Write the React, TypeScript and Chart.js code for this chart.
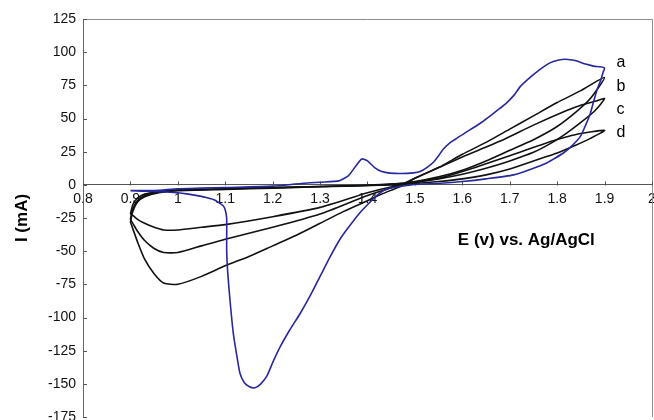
import React, { useEffect, useRef } from "react";
import { Chart, registerables } from "chart.js";

Chart.register(...registerables);

// Axis ranges and tick spacing
const E_MIN = 0.8;
const E_MAX = 2.0;
const E_STEP = 0.1;
const I_MIN = -175;
const I_MAX = 125;
const I_STEP = 25;

// Curve a (blue): [E (V), I (mA)] forward scan then reverse scan
const curveA: [number, number][] = [
  [0.9, -4.3], [0.95, -4.3], [1.0, -3], [1.05, -2.5], [1.1, -2], [1.2, -1], [1.26, 1],
  [1.3, 2], [1.34, 3], [1.36, 7], [1.375, 14], [1.388, 19.5], [1.4, 18], [1.415, 13],
  [1.43, 10], [1.448, 8.8], [1.47, 8.5], [1.497, 9], [1.511, 10], [1.525, 13], [1.539, 17],
  [1.55, 22], [1.56, 27], [1.575, 32], [1.588, 35], [1.605, 39], [1.623, 43], [1.64, 47],
  [1.659, 52], [1.677, 57], [1.694, 62], [1.71, 68], [1.722, 74], [1.743, 81], [1.764, 87],
  [1.78, 91], [1.792, 93], [1.81, 94.5], [1.823, 94.5], [1.84, 93.5], [1.86, 91],
  [1.877, 89.5], [1.89, 89], [1.9, 88],
  [1.897, 85], [1.893, 80], [1.884, 71.5], [1.877, 63], [1.87, 54], [1.86, 45],
  [1.849, 36.5], [1.83, 29], [1.813, 24], [1.795, 20], [1.778, 16.5], [1.75, 12.5],
  [1.708, 7.5], [1.65, 4.5], [1.6, 2.5], [1.553, 1.2], [1.5, 0.3], [1.469, -1.2],
  [1.441, -3], [1.42, -8], [1.4, -15], [1.384, -21], [1.36, -32], [1.342, -41], [1.32, -55],
  [1.3, -69], [1.28, -83], [1.258, -97], [1.235, -110], [1.216, -122], [1.2, -134],
  [1.188, -144], [1.175, -150], [1.163, -153], [1.15, -152], [1.14, -149], [1.131, -142],
  [1.124, -128], [1.117, -112], [1.11, -87], [1.105, -65], [1.103, -49], [1.103, -25],
  [1.1, -19], [1.096, -16], [1.085, -13], [1.075, -11], [1.06, -9.5], [1.047, -8.5],
  [1.019, -6.8], [1.0, -6], [0.95, -5], [0.9, -4.5],
];

// Curve b (black)
const curveB: [number, number][] = [
  [0.9, -28], [0.905, -20], [0.915, -13], [0.93, -9], [0.96, -6], [1.0, -4.5], [1.1, -3.5],
  [1.2, -2.5], [1.3, -1.5], [1.4, -0.5], [1.45, 0.5], [1.5, 2.5], [1.55, 6], [1.6, 11],
  [1.65, 18], [1.7, 26], [1.75, 34], [1.8, 44], [1.84, 55], [1.87, 65], [1.9, 81],
  [1.85, 71], [1.8, 62], [1.75, 52], [1.7, 42], [1.65, 32], [1.6, 23], [1.55, 13], [1.5, 5],
  [1.47, -1], [1.43, -7], [1.4, -12], [1.35, -20], [1.3, -29], [1.25, -38], [1.2, -46],
  [1.15, -54], [1.1, -61], [1.05, -69], [1.0, -75], [0.97, -74], [0.95, -67], [0.93, -56],
  [0.915, -43], [0.905, -33], [0.9, -28],
];

// Curve c (black)
const curveC: [number, number][] = [
  [0.9, -26], [0.905, -18], [0.915, -12], [0.93, -8], [0.96, -5.5], [1.0, -4], [1.1, -3],
  [1.2, -2.2], [1.3, -1.3], [1.4, -0.3], [1.45, 0.5], [1.5, 2], [1.55, 4.5], [1.6, 8],
  [1.65, 12.5], [1.7, 18], [1.75, 24.5], [1.79, 32], [1.82, 39], [1.85, 47], [1.88, 56],
  [1.9, 65],
  [1.88, 63], [1.85, 60], [1.82, 56], [1.75, 45], [1.68, 33], [1.6, 21], [1.55, 13],
  [1.5, 5], [1.47, 0], [1.4, -8], [1.3, -22], [1.2, -32], [1.1, -41], [1.05, -46],
  [1.0, -51], [0.97, -51], [0.95, -48], [0.93, -42], [0.915, -35], [0.905, -29], [0.9, -26],
];

// Curve d (black)
const curveD: [number, number][] = [
  [0.9, -22], [0.905, -15], [0.915, -10], [0.93, -7], [0.96, -5], [1.0, -4], [1.1, -3],
  [1.2, -2], [1.3, -1.2], [1.4, -0.5], [1.45, 0], [1.5, 1], [1.55, 2.5], [1.6, 4.5],
  [1.65, 7.5], [1.7, 12], [1.75, 18], [1.8, 24], [1.84, 30], [1.87, 35], [1.9, 41],
  [1.84, 38], [1.79, 33], [1.7, 22], [1.6, 10], [1.55, 5], [1.5, 2], [1.47, 0], [1.4, -6],
  [1.3, -17], [1.2, -24], [1.1, -30], [1.05, -32], [1.0, -34], [0.97, -34], [0.95, -32],
  [0.93, -29], [0.915, -26], [0.905, -23], [0.9, -22],
];

const curveNames = ["a", "b", "c", "d"];
const curveNameLevels = [92, 74, 56.5, 39];
const curveNameE = 1.925;

const xTitle = "E (v) vs. Ag/AgCl";
const xTitlePos: [number, number] = [1.735, -41.5];
const yTitle = "I (mA)";

const FONT = "'Liberation Sans', Arial, sans-serif";

const toPoints = (arr: [number, number][]) => arr.map(([x, y]) => ({ x, y }));

const decorPlugin = {
  id: "decor",
  beforeDatasetsDraw(chart: any) {
    const { ctx, chartArea } = chart;
    const xs = chart.scales.x;
    const ys = chart.scales.y;
    const { left, right, top, bottom } = chartArea;
    ctx.save();
    ctx.strokeStyle = "#8c8c8c";
    ctx.lineWidth = 1;
    ctx.beginPath();
    ctx.moveTo(left, Math.round(top) + 0.5);
    ctx.lineTo(Math.round(right) + 0.5, Math.round(top) + 0.5);
    ctx.lineTo(Math.round(right) + 0.5, bottom);
    ctx.stroke();
    const y0 = Math.round(ys.getPixelForValue(0)) + 0.5;
    ctx.strokeStyle = "#555";
    ctx.beginPath();
    xs.ticks.forEach((t: any) => {
      const px = Math.round(xs.getPixelForValue(t.value)) + 0.5;
      ctx.moveTo(px, y0);
      ctx.lineTo(px, y0 - 4);
    });
    ys.ticks.forEach((t: any) => {
      const py = Math.round(ys.getPixelForValue(t.value)) + 0.5;
      ctx.moveTo(left, py);
      ctx.lineTo(left + 4, py);
    });
    ctx.stroke();
    ctx.restore();
  },
  afterDraw(chart: any) {
    const { ctx } = chart;
    const xs = chart.scales.x;
    const ys = chart.scales.y;
    ctx.save();
    ctx.fillStyle = "#000";
    ctx.textBaseline = "middle";
    ctx.textAlign = "center";
    ctx.font = `bold 17px ${FONT}`;
    ctx.fillText(xTitle, xs.getPixelForValue(xTitlePos[0]), ys.getPixelForValue(xTitlePos[1]));
    ctx.textAlign = "left";
    ctx.font = `16px ${FONT}`;
    curveNames.forEach((n, i) => {
      ctx.fillText(n, xs.getPixelForValue(curveNameE), ys.getPixelForValue(curveNameLevels[i]));
    });
    ctx.restore();
  },
};

export default function App() {
  const ref = useRef<HTMLCanvasElement>(null);
  useEffect(() => {
    if (!ref.current) return;
    const lineDs = (label: string, data: [number, number][], color: string) => ({
      label,
      data: toPoints(data),
      showLine: true,
      borderColor: color,
      backgroundColor: color,
      borderWidth: 1.6,
      pointRadius: 0,
      tension: 0.2,
      fill: false,
    });
    const chart = new Chart(ref.current, {
      type: "scatter",
      data: {
        datasets: [
          lineDs("a", curveA, "#26289c"),
          lineDs("b", curveB, "#111111"),
          lineDs("c", curveC, "#111111"),
          lineDs("d", curveD, "#111111"),
        ],
      },
      options: {
        responsive: false,
        animation: false,
        devicePixelRatio: 1,
        events: [],
        layout: { padding: { top: 19, right: 2, bottom: 3, left: 0 } },
        plugins: { legend: { display: false }, tooltip: { enabled: false } },
        scales: {
          x: {
            type: "linear",
            position: { y: 0 } as any,
            min: E_MIN,
            max: E_MAX,
            afterFit: (s: any) => {
              s.paddingLeft = 0;
              s.paddingRight = 0;
            },
            ticks: {
              stepSize: E_STEP,
              autoSkip: false,
              maxRotation: 0,
              padding: 6,
              color: "#111",
              font: { family: FONT, size: 14 },
              callback: (v: any) => String(Number(Number(v).toFixed(1))),
            },
            grid: { drawOnChartArea: false, drawTicks: false },
            border: { display: true, color: "#555", width: 1 },
          },
          y: {
            type: "linear",
            position: "left",
            min: I_MIN,
            max: I_MAX,
            afterFit: (s: any) => {
              s.width = 83;
              s.paddingTop = 0;
              s.paddingBottom = 0;
            },
            ticks: {
              stepSize: I_STEP,
              autoSkip: false,
              padding: 7,
              color: "#111",
              font: { family: FONT, size: 14 },
            },
            grid: { drawOnChartArea: false, drawTicks: false },
            border: { display: true, color: "#666", width: 1 },
            title: {
              display: true,
              text: yTitle,
              color: "#000",
              font: { family: FONT, size: 17, weight: "bold" },
              padding: { top: 12, bottom: 0 },
            },
          },
        },
      },
      plugins: [decorPlugin],
    });
    return () => chart.destroy();
  }, []);
  return (
    <div style={{ position: "fixed", left: 0, top: 0, width: 654, height: 420, background: "#fff" }}>
      <canvas ref={ref} width={654} height={420} style={{ display: "block" }} />
    </div>
  );
}
